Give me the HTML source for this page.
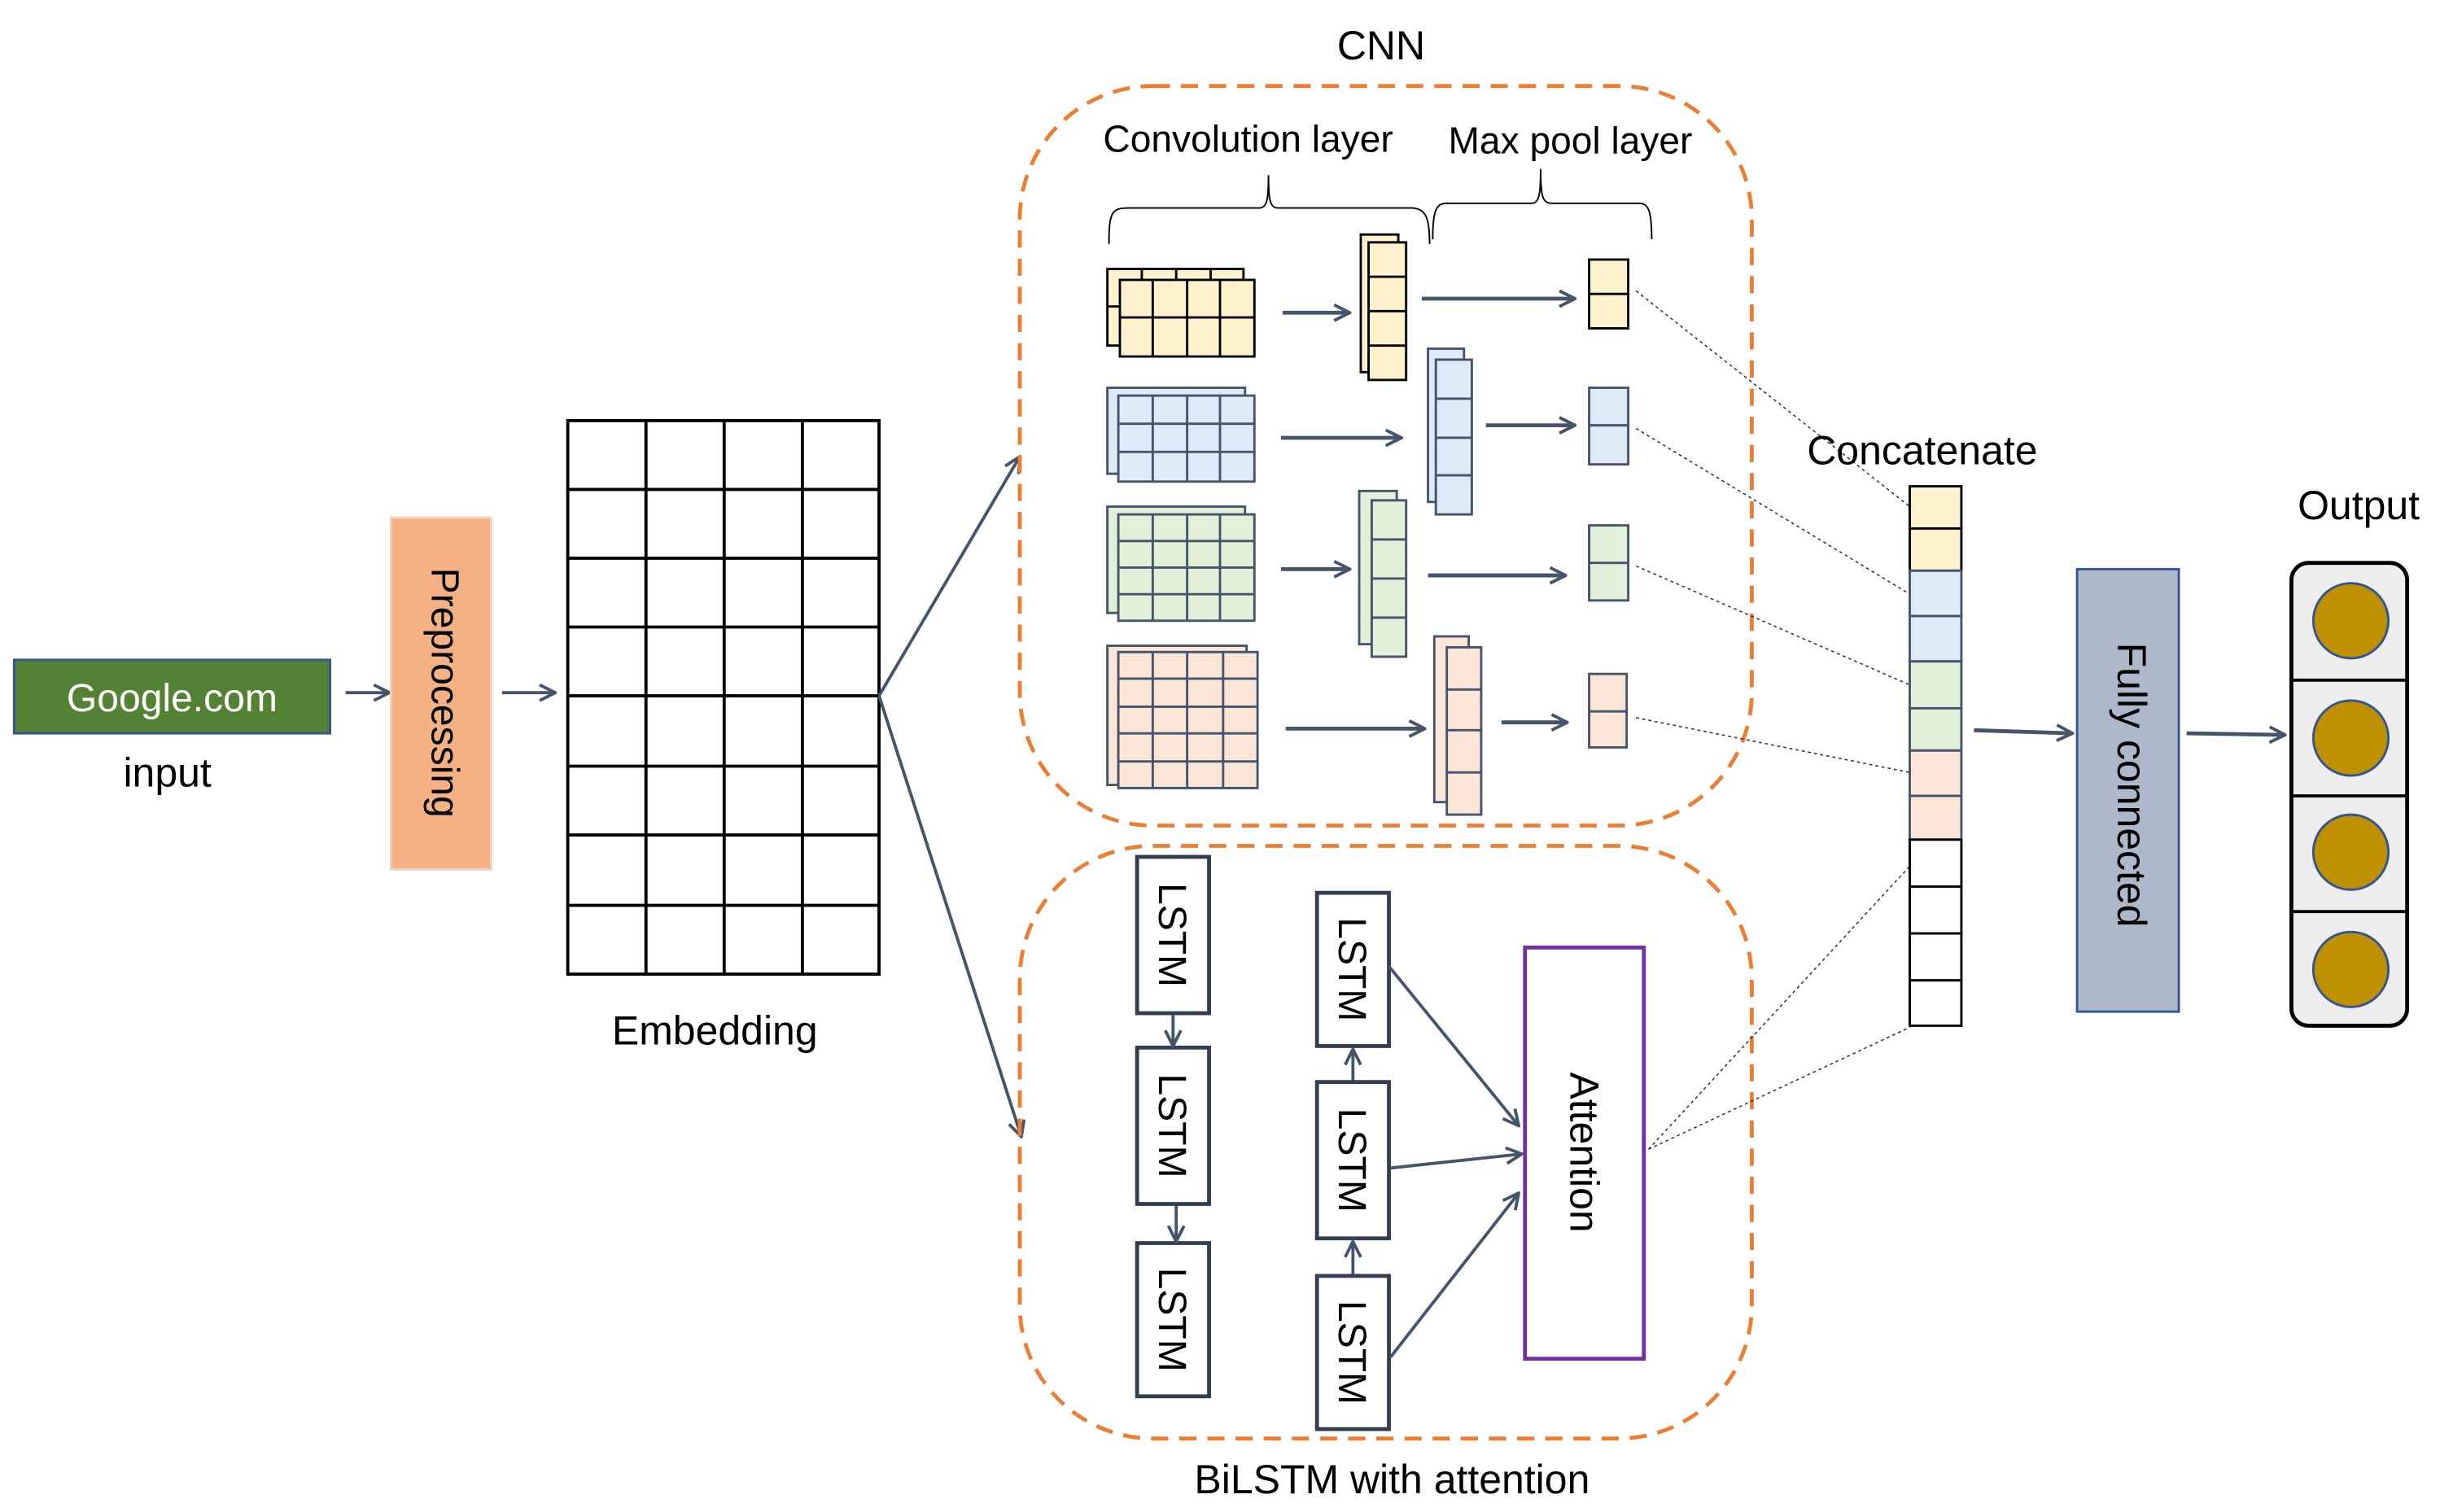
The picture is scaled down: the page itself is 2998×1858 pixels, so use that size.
<!DOCTYPE html>
<html><head><meta charset="utf-8"><style>
html,body{margin:0;padding:0;background:#fff;}
svg{display:block;}
text{font-family:"Liberation Sans",sans-serif;fill:#000;}
</style></head><body>
<svg width="2998" height="1858" viewBox="0 0 1560 967" preserveAspectRatio="none" xmlns="http://www.w3.org/2000/svg">
<defs>
<marker id="a" viewBox="0 0 12 12" refX="11" refY="6" markerWidth="12" markerHeight="12" markerUnits="userSpaceOnUse" orient="auto">
<path d="M1,1 L11,6 L1,11" fill="none" stroke="#44546a" stroke-width="2"/>
</marker>
</defs>

<!-- input -->
<rect x="9" y="422" width="202" height="47" fill="#548235" stroke="#2f5597" stroke-width="1.5"/>
<text x="110" y="455" font-size="25" fill="#fff" style="fill:#fff" text-anchor="middle">Google.com</text>
<text x="107" y="503" font-size="26" text-anchor="middle">input</text>
<line x1="221" y1="443" x2="249" y2="443" stroke="#44546a" stroke-width="2" marker-end="url(#a)"/>

<rect x="250" y="331" width="64" height="225" fill="#f4b183" stroke="#f2d0c0" stroke-width="1.5"/>
<text transform="translate(276,443) rotate(90)" font-size="25" text-anchor="middle">Preprocessing</text>
<line x1="321" y1="443" x2="355" y2="443" stroke="#44546a" stroke-width="2" marker-end="url(#a)"/>

<!-- embedding -->
<g stroke="#000" stroke-width="2" fill="none">
<rect x="363" y="269" width="199" height="354" fill="#fff"/>
<line x1="413" y1="269" x2="413" y2="623"/><line x1="463" y1="269" x2="463" y2="623"/><line x1="513" y1="269" x2="513" y2="623"/>
<line x1="363" y1="313" x2="562" y2="313"/><line x1="363" y1="357" x2="562" y2="357"/><line x1="363" y1="401" x2="562" y2="401"/><line x1="363" y1="445" x2="562" y2="445"/><line x1="363" y1="490" x2="562" y2="490"/><line x1="363" y1="534" x2="562" y2="534"/><line x1="363" y1="579" x2="562" y2="579"/>
</g>
<text x="457" y="668" font-size="26" text-anchor="middle">Embedding</text>
<line x1="562" y1="445" x2="652" y2="292" stroke="#44546a" stroke-width="2" marker-end="url(#a)"/>
<line x1="562" y1="445" x2="653" y2="727" stroke="#44546a" stroke-width="2" marker-end="url(#a)"/>

<!-- CNN box -->
<rect x="652" y="55" width="468" height="473" rx="85" fill="none" stroke="#ed7d31" stroke-width="2.5" stroke-dasharray="11,7"/>
<text x="883" y="38" font-size="26" text-anchor="middle">CNN</text>
<text x="798" y="97" font-size="24" text-anchor="middle">Convolution layer</text>
<text x="1004" y="98" font-size="24" text-anchor="middle">Max pool layer</text>
<path d="M709,156 C709,135 711,133 722,133 L805,133 C810,133 811,128 811,112 C811,128 812,133 817,133 L902,133 C912,133 914,140 914,156" fill="none" stroke="#000" stroke-width="1"/>
<path d="M916,153 C916,135 918,130 925,130 L979,130 C984,130 985,125 985,108 C985,125 986,130 992,130 L1048,130 C1054,130 1056,135 1056,153" fill="none" stroke="#000" stroke-width="1"/>

<!-- yellow row -->
<g stroke="#000" stroke-width="1.5" fill="#fff2cc">
<rect x="708" y="172" width="87" height="49"/>
<line x1="730" y1="172" x2="730" y2="179"/><line x1="752" y1="172" x2="752" y2="179"/><line x1="774" y1="172" x2="774" y2="179"/><line x1="708" y1="196" x2="716" y2="196"/>
<rect x="716" y="179" width="86" height="49"/>
<line x1="737" y1="179" x2="737" y2="228"/><line x1="759" y1="179" x2="759" y2="228"/><line x1="780" y1="179" x2="780" y2="228"/><line x1="716" y1="203" x2="802" y2="203"/>
<rect x="870" y="150" width="24" height="88"/>
<rect x="875" y="155" width="24" height="88"/>
<line x1="875" y1="177" x2="899" y2="177"/><line x1="875" y1="199" x2="899" y2="199"/><line x1="875" y1="221" x2="899" y2="221"/>
<rect x="1016" y="166" width="25" height="44"/><line x1="1016" y1="188" x2="1041" y2="188"/>
</g>
<!-- blue row -->
<g stroke="#44546a" stroke-width="1.5" fill="#deebf7">
<rect x="708" y="248" width="88" height="55"/>
<rect x="715" y="253" width="87" height="55"/>
<line x1="737" y1="253" x2="737" y2="308"/><line x1="759" y1="253" x2="759" y2="308"/><line x1="780" y1="253" x2="780" y2="308"/><line x1="715" y1="271" x2="802" y2="271"/><line x1="715" y1="289" x2="802" y2="289"/>
<rect x="913" y="223" width="23" height="98"/>
<rect x="918" y="230" width="23" height="99"/>
<line x1="918" y1="255" x2="941" y2="255"/><line x1="918" y1="280" x2="941" y2="280"/><line x1="918" y1="304" x2="941" y2="304"/>
<rect x="1016" y="248" width="25" height="49"/><line x1="1016" y1="272" x2="1041" y2="272"/>
</g>
<!-- green row -->
<g stroke="#44546a" stroke-width="1.5" fill="#e2f0d9">
<rect x="708" y="324" width="88" height="68"/>
<rect x="715" y="329" width="87" height="68"/>
<line x1="737" y1="329" x2="737" y2="397"/><line x1="759" y1="329" x2="759" y2="397"/><line x1="780" y1="329" x2="780" y2="397"/><line x1="715" y1="346" x2="802" y2="346"/><line x1="715" y1="363" x2="802" y2="363"/><line x1="715" y1="380" x2="802" y2="380"/>
<rect x="869" y="314" width="24" height="98"/>
<rect x="877" y="320" width="22" height="100"/>
<line x1="877" y1="345" x2="899" y2="345"/><line x1="877" y1="370" x2="899" y2="370"/><line x1="877" y1="395" x2="899" y2="395"/>
<rect x="1016" y="336" width="25" height="48"/><line x1="1016" y1="360" x2="1041" y2="360"/>
</g>
<!-- peach row -->
<g stroke="#44546a" stroke-width="1.5" fill="#fbe5d6">
<rect x="708" y="413" width="89" height="89"/>
<rect x="715" y="417" width="89" height="87"/>
<line x1="737" y1="417" x2="737" y2="504"/><line x1="759" y1="417" x2="759" y2="504"/><line x1="782" y1="417" x2="782" y2="504"/><line x1="715" y1="434" x2="804" y2="434"/><line x1="715" y1="452" x2="804" y2="452"/><line x1="715" y1="469" x2="804" y2="469"/><line x1="715" y1="487" x2="804" y2="487"/>
<rect x="917" y="407" width="22" height="106"/>
<rect x="925" y="414" width="22" height="107"/>
<line x1="925" y1="441" x2="947" y2="441"/><line x1="925" y1="467" x2="947" y2="467"/><line x1="925" y1="494" x2="947" y2="494"/>
<rect x="1016" y="431" width="24" height="47"/><line x1="1016" y1="455" x2="1040" y2="455"/>
</g>
<g stroke="#44546a" stroke-width="2.5" marker-end="url(#a)">
<line x1="820" y1="200" x2="863" y2="200"/>
<line x1="909" y1="191" x2="1007" y2="191"/>
<line x1="819" y1="280" x2="896" y2="280"/>
<line x1="950" y1="272" x2="1007" y2="272"/>
<line x1="819" y1="364" x2="863" y2="364"/>
<line x1="913" y1="368" x2="1001" y2="368"/>
<line x1="822" y1="466" x2="911" y2="466"/>
<line x1="960" y1="462" x2="1002" y2="462"/>
</g>

<!-- BiLSTM box -->
<rect x="652" y="541" width="468" height="379" rx="85" fill="none" stroke="#ed7d31" stroke-width="2.5" stroke-dasharray="11,7"/>
<text x="890" y="955" font-size="26" text-anchor="middle">BiLSTM with attention</text>
<g stroke="#333f50" stroke-width="2.5" fill="#fff">
<rect x="727" y="548" width="46" height="100"/>
<rect x="727" y="670" width="46" height="100"/>
<rect x="727" y="795" width="46" height="98"/>
<rect x="842" y="571" width="46" height="98"/>
<rect x="842" y="692" width="46" height="100"/>
<rect x="842" y="816" width="46" height="98"/>
</g>
<rect x="975" y="606" width="76" height="263" fill="#fff" stroke="#7030a0" stroke-width="2.5"/>
<g font-size="25" text-anchor="middle">
<text transform="translate(741,598) rotate(90)">LSTM</text>
<text transform="translate(741,720) rotate(90)">LSTM</text>
<text transform="translate(741,844) rotate(90)">LSTM</text>
<text transform="translate(856,620) rotate(90)">LSTM</text>
<text transform="translate(856,742) rotate(90)">LSTM</text>
<text transform="translate(856,865) rotate(90)">LSTM</text>
<text transform="translate(1004,737) rotate(90)" font-size="26">Attention</text>
</g>
<g stroke="#44546a" stroke-width="2" marker-end="url(#a)">
<line x1="750" y1="649" x2="750" y2="669"/>
<line x1="752" y1="771" x2="752" y2="794"/>
<line x1="865" y1="691" x2="865" y2="671"/>
<line x1="865" y1="815" x2="865" y2="794"/>
<line x1="888" y1="618" x2="971" y2="720"/>
<line x1="889" y1="747" x2="973" y2="738"/>
<line x1="889" y1="868" x2="971" y2="763"/>
</g>

<!-- dotted connectors -->
<g stroke="#333" stroke-width="0.8" stroke-dasharray="2,2" fill="none">
<line x1="1046" y1="186" x2="1221" y2="324"/>
<line x1="1046" y1="274" x2="1221" y2="380"/>
<line x1="1046" y1="362" x2="1221" y2="438"/>
<line x1="1046" y1="459" x2="1221" y2="494"/>
<line x1="1054" y1="735" x2="1221" y2="554"/>
<line x1="1054" y1="735" x2="1221" y2="657"/>
</g>

<!-- concatenate -->
<text x="1229" y="297" font-size="26" text-anchor="middle">Concatenate</text>
<g stroke-width="1.5">
<rect x="1221" y="311" width="33" height="27" fill="#fff2cc" stroke="#000"/>
<rect x="1221" y="338" width="33" height="27" fill="#fff2cc" stroke="#000"/>
<rect x="1221" y="365" width="33" height="29" fill="#deebf7" stroke="#44546a"/>
<rect x="1221" y="394" width="33" height="29" fill="#deebf7" stroke="#44546a"/>
<rect x="1221" y="423" width="33" height="30" fill="#e2f0d9" stroke="#44546a"/>
<rect x="1221" y="453" width="33" height="27" fill="#e2f0d9" stroke="#44546a"/>
<rect x="1221" y="480" width="33" height="29" fill="#fbe5d6" stroke="#44546a"/>
<rect x="1221" y="509" width="33" height="28" fill="#fbe5d6" stroke="#44546a"/>
<rect x="1221" y="537" width="33" height="30" fill="#fff" stroke="#000"/>
<rect x="1221" y="567" width="33" height="30" fill="#fff" stroke="#000"/>
<rect x="1221" y="597" width="33" height="30" fill="#fff" stroke="#000"/>
<rect x="1221" y="627" width="33" height="29" fill="#fff" stroke="#000"/>
</g>
<line x1="1262" y1="467" x2="1325" y2="469" stroke="#44546a" stroke-width="2.5" marker-end="url(#a)"/>
<rect x="1328" y="364" width="65" height="283" fill="#adb9ca" stroke="#2f5597" stroke-width="1.5"/>
<text transform="translate(1354,502) rotate(90)" font-size="26" text-anchor="middle">Fully connected</text>
<line x1="1398" y1="469" x2="1461" y2="470" stroke="#44546a" stroke-width="2.5" marker-end="url(#a)"/>

<!-- output -->
<text x="1508" y="332" font-size="26" text-anchor="middle">Output</text>
<rect x="1465" y="360" width="74" height="296" rx="11" fill="#eeeeee" stroke="#000" stroke-width="2.5"/>
<g stroke="#000" stroke-width="2"><line x1="1465" y1="435" x2="1539" y2="435"/><line x1="1465" y1="509" x2="1539" y2="509"/><line x1="1465" y1="583" x2="1539" y2="583"/></g>
<g fill="#bf9000" stroke="#2f5597" stroke-width="1.5">
<circle cx="1503" cy="397" r="24"/><circle cx="1503" cy="472" r="24"/><circle cx="1503" cy="545" r="24"/><circle cx="1503" cy="620" r="24"/>
</g>
</svg>
</body></html>
